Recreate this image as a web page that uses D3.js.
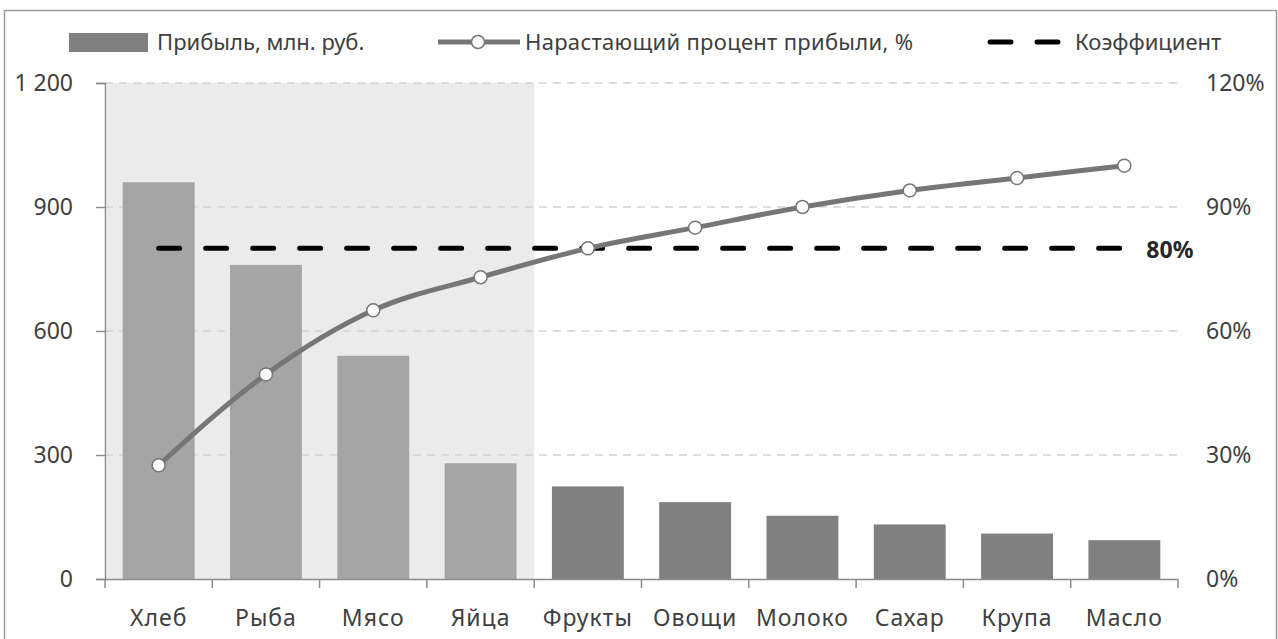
<!DOCTYPE html>
<html>
<head>
<meta charset="utf-8">
<script src="https://cdn.jsdelivr.net/npm/d3@7"></script>
<style>
  body { margin: 0; background: #fff; }
  svg text { font-family: "Noto Sans", "Open Sans", sans-serif; fill: #404040; }
</style>
</head>
<body>
<div id="chart"></div>
<script>
// data
var categories = ["Хлеб", "Рыба", "Мясо", "Яйца", "Фрукты", "Овощи", "Молоко", "Сахар", "Крупа", "Масло"];
var profit = [960, 760, 540, 280, 224, 186, 153, 132, 110, 94];
var cumPercent = [27.5, 49.5, 65, 73, 80, 85, 90, 94, 97, 100];
var coefficient = 80;
var leftTicks = [0, 300, 600, 900, 1200];
var rightTicks = [0, 30, 60, 90, 120];
var highlighted = 4; // first four categories sit on the grey band

var W = 1278, H = 639;
var margin = { top: 83, right: 100, bottom: 60, left: 105 };
var width = W - margin.left - margin.right;
var height = H - margin.top - margin.bottom;
var fs = "23px";

var svg = d3.select("#chart").append("svg")
  .attr("width", W)
  .attr("height", H);

// outer frame
svg.append("rect")
  .attr("x", 4.5).attr("y", 10.5)
  .attr("width", W - 6).attr("height", H)
  .attr("fill", "#fff")
  .attr("stroke", "#9a9a9a")
  .attr("stroke-width", 1.5);

var g = svg.append("g")
  .attr("transform", "translate(" + margin.left + "," + margin.top + ")");

var x = d3.scaleBand().domain(categories).range([0, width]).paddingInner(0.33).paddingOuter(0.165);
var xCat = d3.scaleBand().domain(categories).range([0, width]);
var y = d3.scaleLinear().domain([0, 1200]).range([height, 0]);
var y2 = d3.scaleLinear().domain([0, 120]).range([height, 0]);

// grey band behind the top categories
g.append("rect")
  .attr("x", 2)
  .attr("y", 0)
  .attr("width", xCat(categories[highlighted]) - 2)
  .attr("height", height)
  .attr("fill", "#ebebeb");

// gridlines
g.selectAll(".grid")
  .data(leftTicks.filter(function(d) { return d > 0; }))
  .enter().append("line")
  .attr("x1", 0).attr("x2", width)
  .attr("y1", function(d) { return y(d); })
  .attr("y2", function(d) { return y(d); })
  .attr("stroke", "#d4d4d4")
  .attr("stroke-width", 1.3)
  .attr("stroke-dasharray", "8,6");

// bars
g.selectAll(".bar")
  .data(profit)
  .enter().append("rect")
  .attr("x", function(d, i) { return x(categories[i]); })
  .attr("y", function(d) { return y(d); })
  .attr("width", x.bandwidth())
  .attr("height", function(d) { return height - y(d); })
  .attr("fill", function(d, i) { return i < highlighted ? "#a5a5a5" : "#808080"; });

// axes
var xAxis = g.append("g")
  .attr("transform", "translate(0," + height + ")")
  .call(d3.axisBottom(xCat).tickSize(0).tickPadding(31));
xAxis.select(".domain").attr("stroke", "#8c8c8c").attr("stroke-width", 1.5);
xAxis.selectAll("text").style("font-size", fs).style("letter-spacing", "1px");
// category boundary ticks
xAxis.selectAll(".bnd")
  .data(d3.range(categories.length + 1))
  .enter().append("line")
  .attr("x1", function(i) { return i * xCat.step(); })
  .attr("x2", function(i) { return i * xCat.step(); })
  .attr("y1", 0).attr("y2", 9)
  .attr("stroke", "#8c8c8c").attr("stroke-width", 1.5);

var yAxis = g.append("g")
  .call(d3.axisLeft(y).tickValues(leftTicks).tickSizeOuter(0).tickSize(9).tickPadding(23)
    .tickFormat(function(d) { return d3.format(",")(d).replace(",", " "); }));
yAxis.select(".domain").attr("stroke", "#8c8c8c").attr("stroke-width", 1.5);
yAxis.selectAll(".tick line").attr("stroke", "#8c8c8c").attr("stroke-width", 1.5);
yAxis.selectAll("text").style("font-size", fs);

var yAxis2 = g.append("g")
  .attr("transform", "translate(" + width + ",0)")
  .call(d3.axisRight(y2).tickValues(rightTicks).tickSize(0).tickPadding(28)
    .tickFormat(function(d) { return d + "%"; }));
yAxis2.select(".domain").remove();
yAxis2.selectAll("text").style("font-size", fs);

// coefficient line
var cx = function(i) { return xCat(categories[i]) + xCat.bandwidth() / 2; };
g.append("line")
  .attr("x1", cx(0))
  .attr("x2", cx(categories.length - 1))
  .attr("y1", y2(coefficient)).attr("y2", y2(coefficient))
  .attr("stroke", "#000")
  .attr("stroke-width", 5)
  .attr("stroke-linecap", "round")
  .attr("stroke-dasharray", "21,26");
g.append("text")
  .attr("x", cx(categories.length - 1) + 22)
  .attr("y", y2(coefficient) + 2)
  .attr("dy", "0.35em")
  .style("font-size", fs)
  .style("font-weight", "bold")
  .style("fill", "#262626")
  .text(coefficient + "%");

// cumulative line
var line = d3.line()
  .x(function(d, i) { return cx(i); })
  .y(function(d) { return y2(d); })
  .curve(d3.curveMonotoneX);
g.append("path")
  .datum(cumPercent)
  .attr("fill", "none")
  .attr("stroke", "#767676")
  .attr("stroke-width", 5)
  .attr("d", line);
g.selectAll(".dot")
  .data(cumPercent)
  .enter().append("circle")
  .attr("cx", function(d, i) { return cx(i); })
  .attr("cy", function(d) { return y2(d); })
  .attr("r", 6.5)
  .attr("fill", "#fff")
  .attr("stroke", "#767676")
  .attr("stroke-width", 1.5);

// legend
var leg = svg.append("g").attr("transform", "translate(0,42)");
leg.append("rect").attr("x", 69).attr("y", -9).attr("width", 79).attr("height", 19).attr("fill", "#808080");
leg.append("text").attr("x", 157).attr("dy", "0.35em").style("font-size", "22px").text("Прибыль, млн. руб.");

leg.append("line").attr("x1", 438).attr("x2", 520).attr("stroke", "#767676").attr("stroke-width", 5);
leg.append("circle").attr("cx", 478).attr("r", 6.5).attr("fill", "#fff").attr("stroke", "#767676").attr("stroke-width", 1.5);
leg.append("text").attr("x", 525).attr("dy", "0.35em").style("font-size", "22px").style("letter-spacing", "0.3px").text("Нарастающий процент прибыли, %");

leg.append("line").attr("x1", 990).attr("x2", 1060).attr("stroke", "#000").attr("stroke-width", 5)
  .attr("stroke-linecap", "round").attr("stroke-dasharray", "21,26");
leg.append("text").attr("x", 1075).attr("dy", "0.35em").style("font-size", "22px").text("Коэффициент");
</script>
</body>
</html>
